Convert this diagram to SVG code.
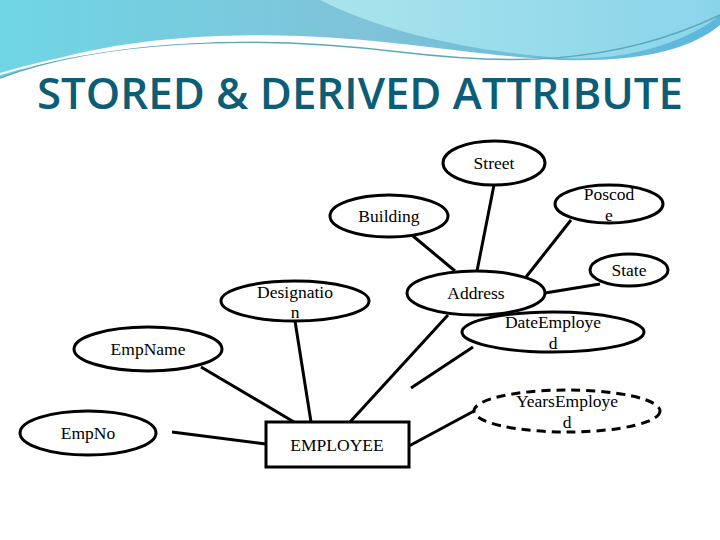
<svg xmlns="http://www.w3.org/2000/svg" width="720" height="540" viewBox="0 0 720 540">
<defs>
<linearGradient id="g1" x1="0" y1="0" x2="1" y2="0">
<stop offset="0" stop-color="#6fd6e6"/><stop offset="0.5" stop-color="#7fc3d8"/><stop offset="1" stop-color="#5cb8dc"/>
</linearGradient>
<linearGradient id="g2" x1="0" y1="0" x2="1" y2="0">
<stop offset="0" stop-color="#a9e4ec"/><stop offset="1" stop-color="#8ad4ea"/>
</linearGradient>
<style>
.n{fill:#fff;stroke:#000;stroke-width:3}
.d{stroke-dasharray:9 6}
.t{font-family:"Liberation Serif",serif;font-size:17.5px;text-anchor:middle;fill:#000}
#edges line{stroke:#000;stroke-width:3}
</style>
</defs>
<rect width="720" height="540" fill="#fff"/>
<path d="M0,0 H720 V25 C690,50 640,62 560,60 C470,55 400,40 300,36 C180,32 80,45 0,78 Z" fill="url(#g1)"/>
<path d="M320,0 C380,30 460,50 560,58 C630,62 690,40 720,15 V0 Z" fill="url(#g2)"/>
<path d="M0,78 C100,40 250,34 400,52 C500,64 610,68 720,15" fill="none" stroke="#5aa8b8" stroke-width="1.5"/>
<path d="M0,74 C100,44 230,32 380,46" fill="none" stroke="#fff" stroke-width="2"/>
<text x="360" y="109" font-family="Open Sans,Liberation Sans,sans-serif" font-weight="600" font-size="44" fill="#0c5d75" text-anchor="middle" textLength="646" lengthAdjust="spacingAndGlyphs">STORED &amp; DERIVED ATTRIBUTE</text>
<g id="edges">
<line x1="413" y1="236" x2="455" y2="271"/>
<line x1="494" y1="185" x2="477" y2="271"/>
<line x1="571" y1="220" x2="526" y2="277"/>
<line x1="600" y1="284" x2="545" y2="293"/>
<line x1="448" y1="315" x2="350" y2="422"/>
<line x1="473" y1="347" x2="411" y2="388"/>
<line x1="295" y1="321" x2="311" y2="422"/>
<line x1="201" y1="367" x2="294" y2="422"/>
<line x1="172" y1="432" x2="266" y2="444"/>
<line x1="474" y1="411" x2="409" y2="446"/>
</g>
<g id="street"><ellipse class="n" cx="494" cy="163" rx="51" ry="22"/><text class="t" x="494" y="169">Street</text></g>
<g id="building"><ellipse class="n" cx="389" cy="216" rx="59" ry="21"/><text class="t" x="389" y="222">Building</text></g>
<g id="poscode"><ellipse class="n" cx="609" cy="204" rx="54" ry="19"/><text class="t" x="609" y="200">Poscod</text><text class="t" x="609" y="221">e</text></g>
<g id="state"><ellipse class="n" cx="629" cy="270" rx="39" ry="16"/><text class="t" x="629" y="276">State</text></g>
<g id="address"><ellipse class="n" cx="476" cy="293" rx="69" ry="22"/><text class="t" x="476" y="299">Address</text></g>
<g id="designation"><ellipse class="n" cx="295" cy="301" rx="74" ry="20"/><text class="t" x="295" y="298">Designatio</text><text class="t" x="295" y="318">n</text></g>
<g id="dateemployed"><ellipse class="n" cx="553" cy="332" rx="91" ry="20"/><text class="t" x="553" y="328">DateEmploye</text><text class="t" x="553" y="349">d</text></g>
<g id="empname"><ellipse class="n" cx="148" cy="349" rx="74" ry="22"/><text class="t" x="148" y="355">EmpName</text></g>
<g id="empno"><ellipse class="n" cx="88" cy="433" rx="68" ry="22"/><text class="t" x="88" y="439">EmpNo</text></g>
<g id="yearsemployed"><ellipse class="n d" cx="567" cy="411" rx="93" ry="21"/><text class="t" x="567" y="407">YearsEmploye</text><text class="t" x="567" y="428">d</text></g>
<g id="employee"><rect class="n" x="266" y="422" width="143" height="45"/><text class="t" x="337" y="451">EMPLOYEE</text></g>
</svg>
